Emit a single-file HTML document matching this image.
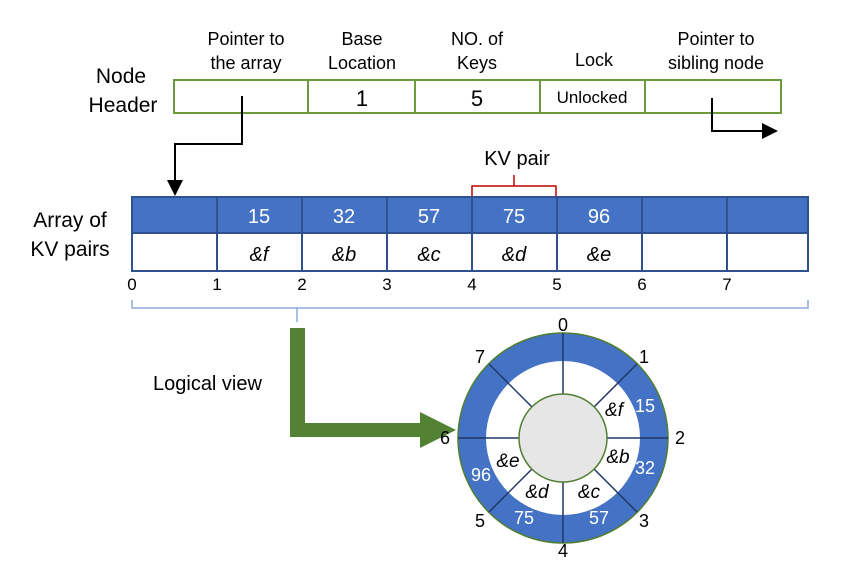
<!DOCTYPE html><html><head><style>body{margin:0;background:#fff}svg{display:block}text{font-family:"Liberation Sans",sans-serif}</style></head><body>
<svg width="845" height="577" viewBox="0 0 845 577" xmlns="http://www.w3.org/2000/svg">
<defs><marker id="a" markerWidth="8" markerHeight="8" refX="7" refY="4" orient="auto"><path d="M0,0L8,4L0,8z" fill="#000"/></marker></defs>
<g font-size="18" text-anchor="middle" fill="#000">
<text x="246" y="45">Pointer to</text><text x="246" y="69">the array</text>
<text x="362" y="45">Base</text><text x="362" y="69">Location</text>
<text x="477" y="45">NO. of</text><text x="477" y="69">Keys</text>
<text x="594" y="66">Lock</text>
<text x="716" y="45">Pointer to</text><text x="716" y="69">sibling node</text>
<text x="121" y="83" font-size="21">Node</text><text x="123" y="112" font-size="21">Header</text>
</g>
<rect x="174" y="80" width="607" height="33" fill="#fff" stroke="#6a9a3c" stroke-width="2"/>
<g stroke="#6a9a3c" stroke-width="2"><line x1="308" y1="80" x2="308" y2="113"/><line x1="415" y1="80" x2="415" y2="113"/><line x1="540" y1="80" x2="540" y2="113"/><line x1="645" y1="80" x2="645" y2="113"/></g>
<g text-anchor="middle"><text x="362" y="106" font-size="22">1</text><text x="477" y="106" font-size="22">5</text><text x="592" y="103" font-size="17">Unlocked</text></g>
<path d="M242,96V144H175V194" fill="none" stroke="#000" stroke-width="2" marker-end="url(#a)"/>
<path d="M712,98V131H776" fill="none" stroke="#000" stroke-width="2" marker-end="url(#a)"/>
<text x="517" y="165" font-size="20" text-anchor="middle">KV pair</text>
<path d="M472,196V186H556V196M514,186V175" fill="none" stroke="#c00000" stroke-width="1.5"/>
<rect x="132" y="197" width="676" height="36" fill="#4472c4" stroke="#2f528f" stroke-width="2"/>
<rect x="132" y="233" width="676" height="38" fill="#fff" stroke="#2f528f" stroke-width="2"/>
<g stroke="#2f528f" stroke-width="2"><line x1="217" y1="197" x2="217" y2="271"/><line x1="302" y1="197" x2="302" y2="271"/><line x1="387" y1="197" x2="387" y2="271"/><line x1="472" y1="197" x2="472" y2="271"/><line x1="557" y1="197" x2="557" y2="271"/><line x1="642" y1="197" x2="642" y2="271"/><line x1="727" y1="197" x2="727" y2="271"/></g>
<g font-size="20" text-anchor="middle" fill="#fff"><text x="259" y="223">15</text><text x="344" y="223">32</text><text x="429" y="223">57</text><text x="514" y="223">75</text><text x="599" y="223">96</text></g>
<g font-size="20" text-anchor="middle" font-style="italic"><text x="259" y="261">&amp;f</text><text x="344" y="261">&amp;b</text><text x="429" y="261">&amp;c</text><text x="514" y="261">&amp;d</text><text x="599" y="261">&amp;e</text></g>
<text x="70" y="227" font-size="21" text-anchor="middle">Array of</text><text x="70" y="256" font-size="21" text-anchor="middle">KV pairs</text>
<g font-size="17" text-anchor="middle"><text x="132" y="290">0</text><text x="217" y="290">1</text><text x="302" y="290">2</text><text x="387" y="290">3</text><text x="472" y="290">4</text><text x="557" y="290">5</text><text x="642" y="290">6</text><text x="727" y="290">7</text></g>
<path d="M132,300V308H808V300M297,308V322" fill="none" stroke="#8faadc" stroke-width="1.5"/>
<path d="M290,328H305V423H420V412L456,430L420,448V437H290Z" fill="#548235"/>
<text x="153" y="390" font-size="20">Logical view</text>
<circle cx="563" cy="438" r="105" fill="#4472c4" stroke="#507e32" stroke-width="1.5"/>
<circle cx="563" cy="438" r="77" fill="#fff"/>
<g stroke="#203864" stroke-width="1.5">
<line x1="563" y1="333" x2="563" y2="394"/><line x1="563" y1="482" x2="563" y2="543"/>
<line x1="458" y1="438" x2="519" y2="438"/><line x1="607" y1="438" x2="668" y2="438"/>
<line x1="489" y1="364" x2="532" y2="407"/><line x1="594" y1="469" x2="637" y2="512"/>
<line x1="637" y1="364" x2="594" y2="407"/><line x1="532" y1="469" x2="489" y2="512"/></g>
<circle cx="563" cy="438" r="44" fill="#e6e6e6" stroke="#507e32" stroke-width="1.5"/>
<g font-size="18" text-anchor="middle">
<text x="563" y="331">0</text><text x="644" y="363">1</text><text x="680" y="444">2</text><text x="644" y="527">3</text><text x="563" y="557">4</text><text x="480" y="527">5</text><text x="445" y="444">6</text><text x="480" y="363">7</text></g>
<g font-size="18" text-anchor="middle" fill="#fff"><text x="645" y="412">15</text><text x="645" y="474">32</text><text x="599" y="524">57</text><text x="524" y="524">75</text><text x="481" y="481">96</text></g>
<g font-size="19" text-anchor="middle" font-style="italic"><text x="614" y="416">&amp;f</text><text x="618" y="463">&amp;b</text><text x="589" y="498">&amp;c</text><text x="537" y="498">&amp;d</text><text x="508" y="467">&amp;e</text></g>
</svg></body></html>
